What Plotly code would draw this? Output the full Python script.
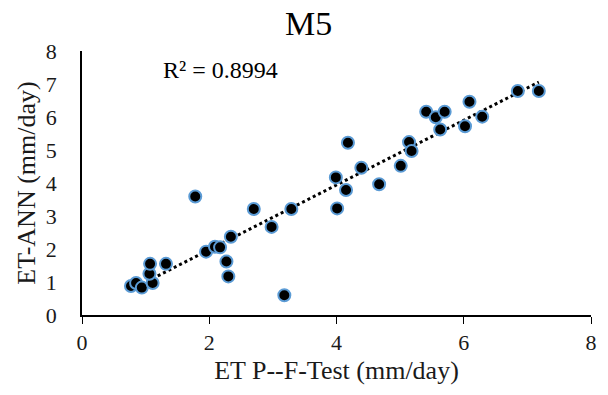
import numpy as np
import plotly.graph_objects as go

et_pf_test = [0.77, 0.85, 0.94, 1.11, 1.06, 1.07, 1.32, 1.78, 1.95, 2.09, 2.17, 2.27, 2.30,
              2.34, 2.70, 2.98, 3.18, 3.29, 4.01, 4.15, 3.99, 4.18, 4.39, 4.67, 5.01, 5.14,
              5.18, 5.41, 5.56, 5.70, 5.63, 6.02, 6.09, 6.29, 6.85, 7.18]
et_ann = [0.88, 0.97, 0.83, 0.97, 1.25, 1.55, 1.55, 3.59, 1.92, 2.07, 2.05, 1.62, 1.17,
          2.37, 3.21, 2.67, 0.60, 3.21, 3.23, 3.79, 4.17, 5.22, 4.46, 3.96, 4.52, 5.24,
          4.97, 6.16, 5.99, 6.16, 5.62, 5.72, 6.46, 6.01, 6.79, 6.79]
x_ticks = [0, 2, 4, 6, 8]
y_ticks = [0, 1, 2, 3, 4, 5, 6, 7, 8]
r2_label = "R² = 0.8994"

x = np.array(et_pf_test)
y = np.array(et_ann)
slope, intercept = np.polyfit(x, y, 1)
tx = np.array([x.min(), x.max()])
ty = slope * tx + intercept

font = "Liberation Serif"
txt = "#1a1a1a"

fig = go.Figure()
fig.add_trace(go.Scatter(
    x=tx, y=ty, mode="lines",
    line=dict(color="black", width=3, dash="dot"),
    hoverinfo="skip", showlegend=False))
fig.add_trace(go.Scatter(
    x=x, y=y, mode="markers",
    marker=dict(size=12, color="black", line=dict(color="#5B9BD5", width=2)),
    showlegend=False))

fig.update_layout(
    width=608, height=395,
    margin=dict(l=82, r=11, t=51, b=80),
    paper_bgcolor="white", plot_bgcolor="white",
    font=dict(family=font, color=txt, size=22),
    showlegend=False,
)
fig.update_xaxes(
    range=[0, 8], tickvals=x_ticks, ticktext=[str(v) for v in x_ticks],
    showgrid=False, zeroline=False, showline=True, linecolor="black", linewidth=1.5,
    ticks="outside", ticklen=7, tickcolor="black", tickwidth=1,
    tickfont=dict(family=font, size=22, color=txt),
    title=dict(text="ET P--F-Test (mm/day)", font=dict(family=font, size=26, color=txt), standoff=7),
)
fig.update_yaxes(
    range=[0, 8], tickvals=y_ticks, ticktext=[str(v) for v in y_ticks],
    showgrid=False, zeroline=False, showline=True, linecolor="black", linewidth=1.5,
    ticks="", ticklabelstandoff=19,
    tickfont=dict(family=font, size=22, color=txt),
    title=dict(text="ET-ANN (mm/day)", font=dict(family=font, size=26, color=txt), standoff=3),
)
fig.add_annotation(
    text="M5", xref="paper", yref="paper", x=(311 - 82) / (608 - 82 - 11),
    y=1 + (51 - 23) / (395 - 51 - 80), xanchor="center", yanchor="middle", showarrow=False,
    font=dict(family=font, size=34, color="black"))
fig.add_annotation(
    text=r2_label, xref="paper", yref="paper", x=(162 - 82) / (608 - 82 - 11),
    y=(315 - 70) / (395 - 51 - 80),
    xanchor="left", yanchor="middle", showarrow=False,
    font=dict(family=font, size=24, color="black"))

fig.write_html("out.html")
